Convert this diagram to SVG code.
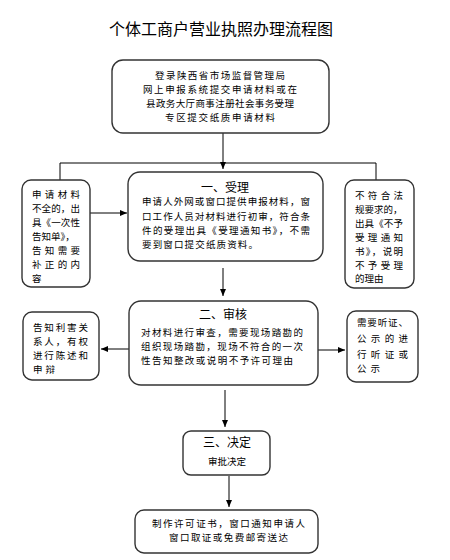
<svg xmlns="http://www.w3.org/2000/svg" width="450" height="560" viewBox="0 0 450 560">
<defs>
<marker id="arr" markerWidth="7" markerHeight="6" refX="7" refY="3" orient="auto" markerUnits="userSpaceOnUse">
<path d="M0,0 L7,3 L0,6 Z" fill="#000"/>
</marker>
<style>
.box{fill:#fff;stroke:#333;stroke-width:1.4}
.t{font-family:"Noto Sans CJK SC","Noto Sans",sans-serif;font-size:9.5px;fill:#000}
.c{text-anchor:middle}
.h{font-family:"Noto Sans CJK SC","Noto Sans",sans-serif;font-size:12px;fill:#000;text-anchor:middle}
.ln{stroke:#000;stroke-width:1;fill:none}
</style>
</defs>
<rect width="450" height="560" fill="#fff"/>
<text x="221" y="35" font-family="'Noto Sans CJK SC','Noto Sans',sans-serif" font-size="16" text-anchor="middle">个体工商户营业执照办理流程图</text>

<g id="connectors">
<line class="ln" x1="223" y1="133" x2="223" y2="169" marker-end="url(#arr)"/>
<polyline class="ln" points="60,180 60,163 376,163 376,181"/>
<line class="ln" x1="90" y1="213" x2="127" y2="213" marker-end="url(#arr)"/>
<line class="ln" x1="223" y1="268" x2="223" y2="296" marker-end="url(#arr)"/>
<line class="ln" x1="129" y1="349" x2="101" y2="349" marker-end="url(#arr)"/>
<line class="ln" x1="318" y1="350" x2="345" y2="350" marker-end="url(#arr)"/>
<line class="ln" x1="225" y1="390" x2="225" y2="427" marker-end="url(#arr)"/>
<line class="ln" x1="229" y1="476" x2="229" y2="507" marker-end="url(#arr)"/>
</g>

<g id="start">
<rect class="box" x="112" y="60" width="217" height="73" rx="11"/>
<text class="t" x="155" y="79" textLength="130" lengthAdjust="spacing">登录陕西省市场监督管理局</text>
<text class="t" x="143" y="93" textLength="154" lengthAdjust="spacing">网上申报系统提交申请材料或在</text>
<text class="t" x="146" y="107" textLength="148" lengthAdjust="spacing">县政务大厅商事注册社会事务受理</text>
<text class="t" x="165" y="121" textLength="110" lengthAdjust="spacing">专区提交纸质申请材料</text>
</g>

<g id="incomplete">
<rect class="box" x="22" y="180" width="68" height="107" rx="9"/>
<text class="t" x="32" y="198" textLength="48" lengthAdjust="spacing">申请材料</text>
<text class="t" x="32" y="212" textLength="48" lengthAdjust="spacing">不全的，出</text>
<text class="t" x="32" y="226" textLength="48" lengthAdjust="spacing">具《一次性</text>
<text class="t" x="32" y="240">告知单》，</text>
<text class="t" x="32" y="254" textLength="48" lengthAdjust="spacing">告知需要</text>
<text class="t" x="32" y="268" textLength="48" lengthAdjust="spacing">补正的内</text>
<text class="t" x="32" y="282">容</text>
</g>

<g id="accept">
<rect class="box" x="128" y="172" width="195" height="89" rx="12"/>
<text class="h" x="225" y="192">一、受理</text>
<text class="t" x="142" y="205" textLength="168" lengthAdjust="spacing">申请人外网或窗口提供申报材料，窗</text>
<text class="t" x="142" y="220" textLength="168" lengthAdjust="spacing">口工作人员对材料进行初审，符合条</text>
<text class="t" x="142" y="234" textLength="168" lengthAdjust="spacing">件的受理出具《受理通知书》，不需</text>
<text class="t" x="142" y="248" textLength="116" lengthAdjust="spacing">要到窗口提交纸质资料。</text>
</g>

<g id="reject">
<rect class="box" x="345" y="180" width="69" height="108" rx="9"/>
<text class="t" x="355" y="199" textLength="48" lengthAdjust="spacing">不符合法</text>
<text class="t" x="355" y="213">规要求的，</text>
<text class="t" x="355" y="227" textLength="48" lengthAdjust="spacing">出具《不予</text>
<text class="t" x="355" y="241" textLength="48" lengthAdjust="spacing">受理通知</text>
<text class="t" x="355" y="255" textLength="48" lengthAdjust="spacing">书》，说明</text>
<text class="t" x="355" y="269" textLength="48" lengthAdjust="spacing">不予受理</text>
<text class="t" x="355" y="282">的理由</text>
</g>

<g id="review">
<rect class="box" x="129" y="301" width="189" height="84" rx="12"/>
<text class="h" x="223" y="319">二、审核</text>
<text class="t" x="141" y="336" textLength="162" lengthAdjust="spacing">对材料进行审查，需要现场踏勘的</text>
<text class="t" x="141" y="350" textLength="162" lengthAdjust="spacing">组织现场踏勘，现场不符合的一次</text>
<text class="t" x="141" y="364" textLength="152" lengthAdjust="spacing">性告知整改或说明不予许可理由</text>
</g>

<g id="notify">
<rect class="box" x="23" y="312" width="76" height="68" rx="9"/>
<text class="t" x="33" y="331" textLength="55" lengthAdjust="spacing">告知利害关</text>
<text class="t" x="33" y="345" textLength="55" lengthAdjust="spacing">系人，有权</text>
<text class="t" x="33" y="359" textLength="55" lengthAdjust="spacing">进行陈述和</text>
<text class="t" x="33" y="373" textLength="22" lengthAdjust="spacing">申辩</text>
</g>

<g id="hearing">
<rect class="box" x="347" y="311" width="71" height="71" rx="9"/>
<text class="t" x="357" y="326" textLength="51" lengthAdjust="spacing">需要听证、</text>
<text class="t" x="357" y="342" textLength="51" lengthAdjust="spacing">公示的进</text>
<text class="t" x="357" y="358" textLength="51" lengthAdjust="spacing">行听证或</text>
<text class="t" x="357" y="372" textLength="23" lengthAdjust="spacing">公示</text>
</g>

<g id="decide">
<rect class="box" x="183" y="431" width="87" height="44" rx="8"/>
<text class="h" x="227" y="447">三、决定</text>
<text class="t c" x="227" y="465" font-size="9.5">审批决定</text>
</g>

<g id="issue">
<rect class="box" x="135" y="510" width="183" height="43" rx="9"/>
<text class="t" x="152" y="527" textLength="153" lengthAdjust="spacing">制作许可证书，窗口通知申请人</text>
<text class="t" x="169" y="541" textLength="119" lengthAdjust="spacing">窗口取证或免费邮寄送达</text>
</g>
</svg>
